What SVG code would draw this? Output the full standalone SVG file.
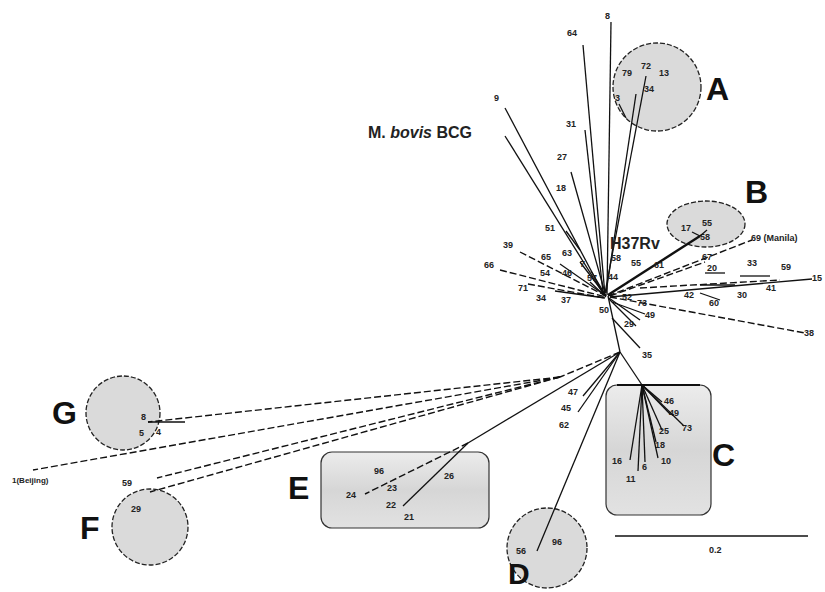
<svg xmlns="http://www.w3.org/2000/svg" width="825" height="592" viewBox="0 0 825 592">
<defs>
<linearGradient id="boxg" x1="0" y1="0" x2="0" y2="1">
<stop offset="0" stop-color="#ececec"/><stop offset="0.5" stop-color="#d6d6d6"/><stop offset="1" stop-color="#e2e2e2"/>
</linearGradient>
<style>
.circ{fill:#dadada;stroke:#222;stroke-width:1.3;stroke-dasharray:5 2}
.box{fill:url(#boxg);stroke:#333;stroke-width:1.2}
.ln{stroke:#111;stroke-width:1.3;fill:none}
.dl{stroke:#111;stroke-width:1.4;fill:none;stroke-dasharray:7 3}
.t{font-family:"Liberation Sans",Arial,sans-serif;font-size:9px;font-weight:bold;fill:#222}
.big{font-family:"Liberation Sans",Arial,sans-serif;font-size:32px;font-weight:bold;fill:#111}
.mid{font-family:"Liberation Sans",Arial,sans-serif;font-size:16px;font-weight:bold;fill:#222}
</style>
</defs>
<rect width="825" height="592" fill="#fff"/>

<g id="clusterA">
<circle class="circ" cx="657" cy="87" r="44"/>
<text class="big" x="706" y="100">A</text>
<text class="t" x="622" y="76">79</text>
<text class="t" x="641" y="69">72</text>
<text class="t" x="659" y="76">13</text>
<text class="t" x="644" y="92">34</text>
<text class="t" x="615" y="101">3</text>
</g>
<g id="clusterB">
<ellipse class="circ" cx="706" cy="224" rx="39" ry="23"/>
<text class="big" x="745" y="203">B</text>
<text class="t" x="681" y="231">17</text>
<text class="t" x="702" y="226">55</text>
<text class="t" x="700" y="240">58</text>
</g>
<g id="clusterC">
<rect class="box" x="606" y="385" width="105" height="130" rx="11"/>
<line class="ln" x1="617" y1="385" x2="700" y2="385" style="stroke-width:2"/>
<text class="big" x="712" y="466">C</text>
<text class="t" x="664" y="404">46</text>
<text class="t" x="669" y="416">49</text>
<text class="t" x="682" y="431">73</text>
<text class="t" x="659" y="434">25</text>
<text class="t" x="655" y="448">18</text>
<text class="t" x="661" y="464">10</text>
<text class="t" x="612" y="464">16</text>
<text class="t" x="642" y="470">6</text>
<text class="t" x="626" y="482">11</text>
</g>
<g id="clusterD">
<circle class="circ" cx="547" cy="548" r="40"/>
<text class="big" x="508" y="584" style="font-size:30px">D</text>
<text class="t" x="516" y="554">56</text>
<text class="t" x="552" y="545">96</text>
</g>
<g id="clusterE">
<rect class="box" x="321" y="452" width="168" height="76" rx="11"/>
<text class="big" x="288" y="499">E</text>
<text class="t" x="374" y="474">96</text>
<text class="t" x="346" y="498">24</text>
<text class="t" x="387" y="491">23</text>
<text class="t" x="386" y="508">22</text>
<text class="t" x="404" y="520">21</text>
<text class="t" x="444" y="479">26</text>
</g>
<g id="clusterF">
<circle class="circ" cx="150" cy="527" r="38"/>
<text class="big" x="80" y="539">F</text>
<text class="t" x="131" y="512">29</text>
<text class="t" x="122" y="486">59</text>
</g>
<g id="clusterG">
<circle class="circ" cx="123" cy="413" r="37"/>
<text class="big" x="52" y="424">G</text>
<text class="t" x="141" y="420">8</text>
<text class="t" x="139" y="436">5</text>
<text class="t" x="156" y="435">4</text>
<text class="t" x="12" y="483" style="font-size:8px">1(Beijing)</text>
</g>

<g id="connectors">
<line class="ln" x1="583" y1="45" x2="605" y2="295"/>
<line class="ln" x1="611" y1="22" x2="607" y2="295"/>
<line class="ln" x1="585" y1="130" x2="603" y2="292"/>
<line class="ln" x1="646" y1="76" x2="605" y2="293"/>
<line class="ln" x1="636" y1="94" x2="606" y2="293"/>
<line class="ln" x1="619" y1="104" x2="626" y2="118"/>
<line class="ln" x1="571" y1="172" x2="605" y2="293"/>
<line class="ln" x1="505" y1="108" x2="604" y2="295"/>
<line class="ln" x1="505" y1="136" x2="604" y2="295"/>
<line class="ln" x1="566" y1="231" x2="580" y2="250"/>
<line class="dl" x1="520" y1="252" x2="606" y2="296"/>
<line class="ln" x1="560" y1="264" x2="606" y2="296"/>
<line class="ln" x1="580" y1="262" x2="606" y2="296"/>
<line class="ln" x1="591" y1="271" x2="606" y2="296"/>
<line class="dl" x1="500" y1="270" x2="606" y2="297"/>
<line class="dl" x1="528" y1="284" x2="605" y2="298"/>
<line class="ln" x1="555" y1="291" x2="605" y2="298"/>
<line class="ln" x1="590" y1="282" x2="606" y2="297"/>
<line class="ln" x1="608" y1="295" x2="700" y2="236" style="stroke-width:2.4"/>
<line class="ln" x1="700" y1="236" x2="707" y2="230"/>
<line class="ln" x1="700" y1="236" x2="692" y2="232"/>
<line class="dl" x1="608" y1="296" x2="752" y2="240"/>
<line class="dl" x1="610" y1="296" x2="705" y2="262"/>
<line class="ln" x1="610" y1="297" x2="812" y2="279"/>
<line class="dl" x1="640" y1="288" x2="780" y2="280"/>
<line class="ln" x1="705" y1="273" x2="725" y2="273"/>
<line class="ln" x1="740" y1="276" x2="770" y2="276"/>
<line class="ln" x1="700" y1="285" x2="735" y2="285"/>
<line class="dl" x1="610" y1="297" x2="805" y2="333"/>
<line class="ln" x1="700" y1="293" x2="720" y2="300"/>
<line class="ln" x1="609" y1="298" x2="640" y2="320"/>
<line class="ln" x1="609" y1="299" x2="636" y2="326"/>
<line class="ln" x1="612" y1="302" x2="645" y2="314"/>
<line class="ln" x1="612" y1="318" x2="640" y2="348"/>
<line class="ln" x1="608" y1="296" x2="620" y2="352"/>
<line class="dl" x1="620" y1="352" x2="560" y2="377"/>
<line class="dl" x1="560" y1="377" x2="148" y2="422"/>
<line class="ln" x1="148" y1="422" x2="185" y2="422"/>
<line class="dl" x1="560" y1="377" x2="33" y2="470"/>
<line class="dl" x1="560" y1="377" x2="157" y2="478"/>
<line class="dl" x1="560" y1="377" x2="150" y2="492"/>
<line class="ln" x1="620" y1="352" x2="583" y2="396"/>
<line class="ln" x1="620" y1="352" x2="578" y2="412"/>
<line class="ln" x1="620" y1="352" x2="468" y2="443"/>
<line class="dl" x1="468" y1="443" x2="365" y2="494"/>
<line class="ln" x1="468" y1="443" x2="403" y2="506"/>
<line class="ln" x1="620" y1="352" x2="537" y2="551"/>
<line class="ln" x1="620" y1="352" x2="642" y2="385"/>
<line class="ln" x1="642" y1="385" x2="662" y2="402"/>
<line class="ln" x1="642" y1="385" x2="670" y2="414"/>
<line class="ln" x1="642" y1="385" x2="684" y2="426"/>
<line class="ln" x1="642" y1="385" x2="662" y2="430"/>
<line class="ln" x1="642" y1="385" x2="656" y2="442"/>
<line class="ln" x1="642" y1="385" x2="658" y2="458"/>
<line class="ln" x1="642" y1="385" x2="645" y2="462"/>
<line class="ln" x1="642" y1="385" x2="638" y2="471"/>
<line class="ln" x1="642" y1="385" x2="630" y2="460"/>
</g>

<g id="labels">
<text class="t" x="567" y="36">64</text>
<text class="t" x="605" y="19">8</text>
<text class="t" x="566" y="127">31</text>
<text class="t" x="557" y="160">27</text>
<text class="t" x="556" y="191">18</text>
<text class="t" x="494" y="101">9</text>
<text class="mid" x="368" y="138">M. <tspan font-style="italic">bovis</tspan> BCG</text>
<text class="t" x="545" y="231">51</text>
<text class="t" x="503" y="248">39</text>
<text class="t" x="541" y="260">65</text>
<text class="t" x="562" y="256">63</text>
<text class="t" x="580" y="267">7</text>
<text class="t" x="484" y="268">66</text>
<text class="t" x="540" y="276">54</text>
<text class="t" x="562" y="276">46</text>
<text class="t" x="587" y="281">57</text>
<text class="t" x="608" y="280">44</text>
<text class="t" x="518" y="291">71</text>
<text class="t" x="536" y="301">34</text>
<text class="t" x="561" y="303">37</text>
<text class="t" x="599" y="313">50</text>
<text class="mid" x="610" y="249">H37Rv</text>
<text class="t" x="611" y="261">58</text>
<text class="t" x="631" y="266">55</text>
<text class="t" x="654" y="268">61</text>
<text class="t" x="751" y="241">69 (Manila)</text>
<text class="t" x="702" y="260">67</text>
<text class="t" x="707" y="271">20</text>
<text class="t" x="747" y="266">33</text>
<text class="t" x="781" y="270">59</text>
<text class="t" x="812" y="281">15</text>
<text class="t" x="766" y="291">41</text>
<text class="t" x="684" y="298">42</text>
<text class="t" x="709" y="306">60</text>
<text class="t" x="737" y="298">30</text>
<text class="t" x="804" y="336">38</text>
<text class="t" x="622" y="300">52</text>
<text class="t" x="637" y="306">73</text>
<text class="t" x="645" y="318">49</text>
<text class="t" x="624" y="327">29</text>
<text class="t" x="642" y="358">35</text>
<text class="t" x="568" y="395">47</text>
<text class="t" x="561" y="411">45</text>
<text class="t" x="559" y="428">62</text>
</g>

<g id="scale">
<line class="ln" x1="615" y1="536" x2="808" y2="536" style="stroke-width:1.5"/>
<text class="t" x="709" y="553">0.2</text>
</g>
</svg>
